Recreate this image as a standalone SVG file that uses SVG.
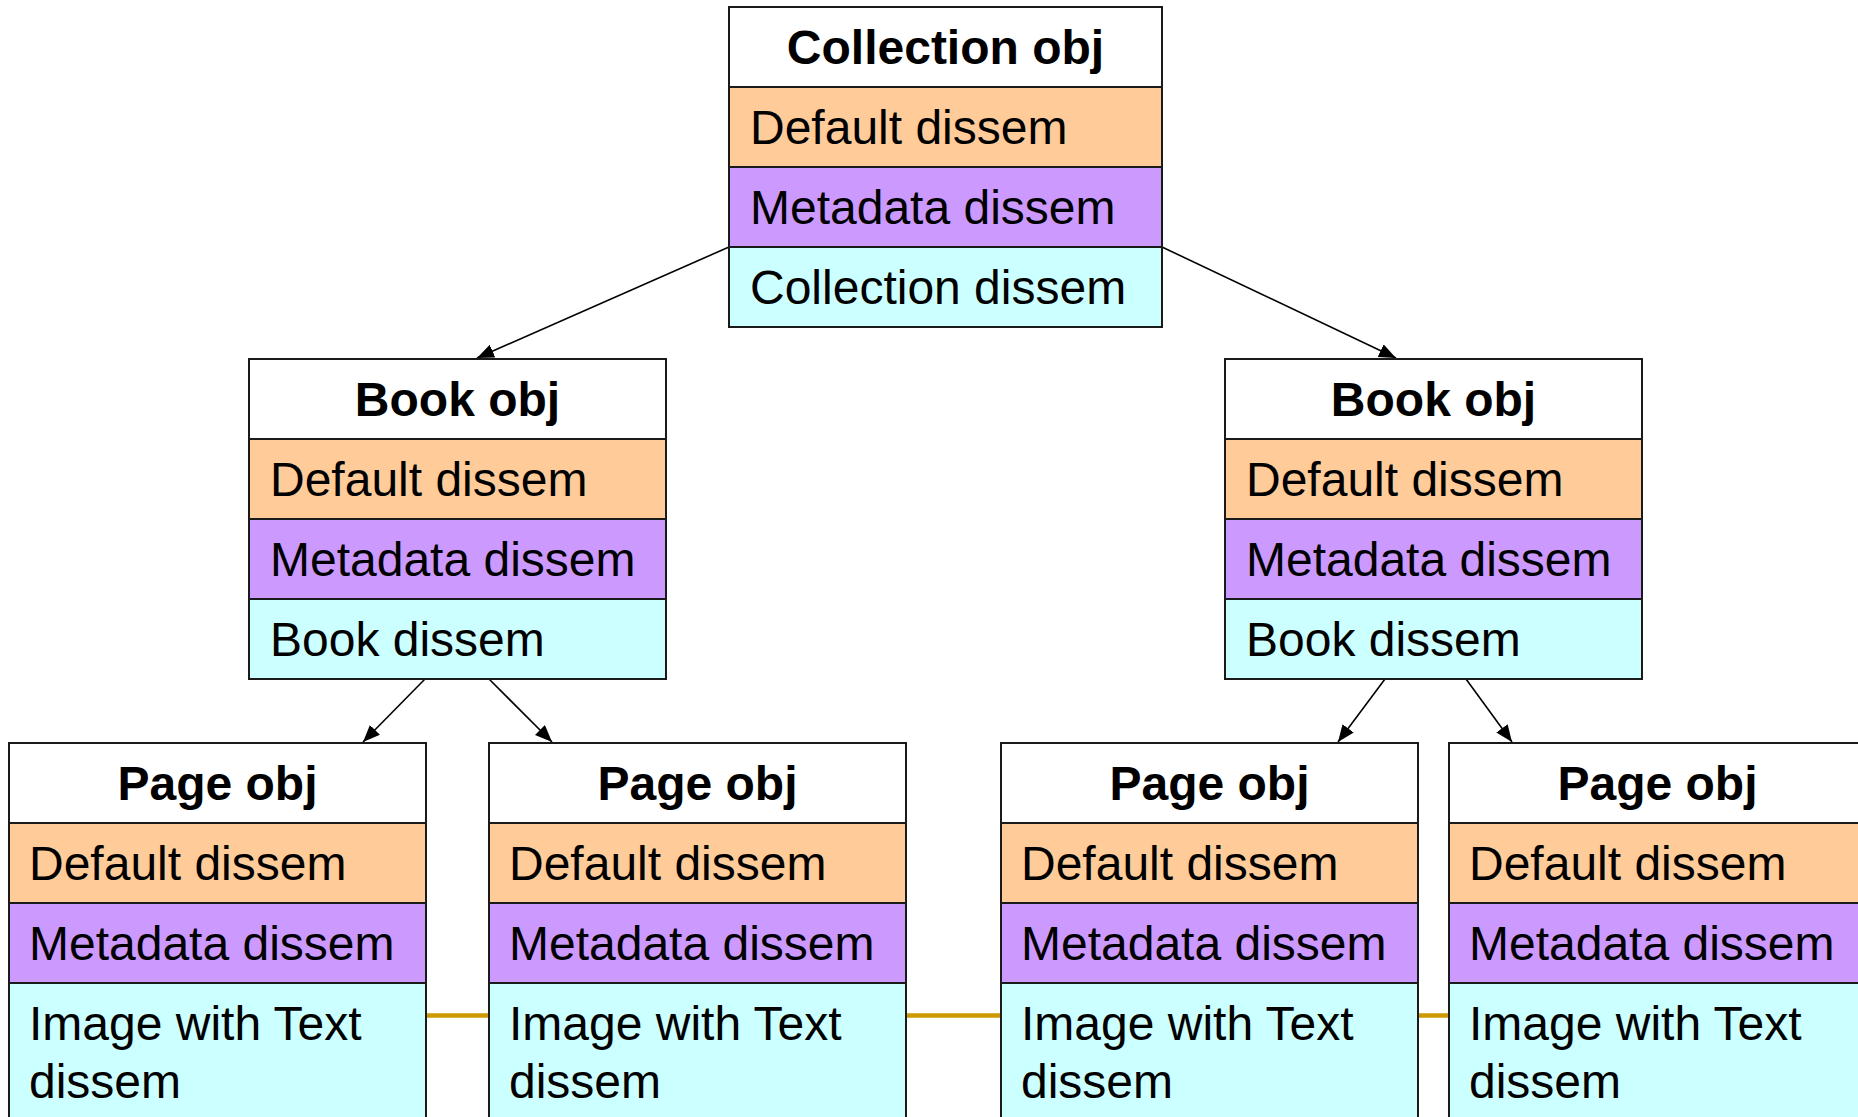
<svg xmlns="http://www.w3.org/2000/svg" width="1858" height="1117" viewBox="0 0 1858 1117">
  <style>
    .box rect { stroke: #1a1a1a; stroke-width: 2; }
    .hdr { fill: #ffffff; }
    .def { fill: #ffcc99; }
    .meta { fill: #cc99ff; }
    .dis { fill: #ccffff; }
    text { font-family: "Liberation Sans", Arial, sans-serif; font-size: 48px; fill: #000; }
    .title { font-weight: bold; text-anchor: middle; }
    .arrow { stroke: #000; stroke-width: 1.6; fill: none; marker-end: url(#head); }
    .link { stroke: #cc9900; stroke-width: 4.5; fill: none; }
  </style>
  <defs>
    <marker id="head" markerUnits="userSpaceOnUse" markerWidth="20" markerHeight="16" refX="17" refY="7" orient="auto">
      <path d="M0,0 L17,7 L0,14 Z" fill="#000"/>
    </marker>
  </defs>
  <rect width="1858" height="1117" fill="#ffffff"/>

  <!-- connectors -->
  <g id="connectors">
    <line class="link" x1="426" y1="1015.5" x2="489" y2="1015.5"/>
    <line class="link" x1="906" y1="1015.5" x2="1001" y2="1015.5"/>
    <line class="link" x1="1418" y1="1015.5" x2="1449" y2="1015.5"/>
    <line class="arrow" x1="729" y1="247" x2="477" y2="358"/>
    <line class="arrow" x1="1162" y1="247" x2="1396" y2="358"/>
    <line class="arrow" x1="425" y1="679" x2="363" y2="742"/>
    <line class="arrow" x1="489" y1="679" x2="552" y2="742"/>
    <line class="arrow" x1="1385" y1="679" x2="1338" y2="742"/>
    <line class="arrow" x1="1466" y1="679" x2="1512" y2="742"/>
  </g>

  <!-- collection object -->
  <g id="collection" class="box">
    <rect class="hdr" x="729" y="7" width="433" height="80"/>
    <rect class="def" x="729" y="87" width="433" height="80"/>
    <rect class="meta" x="729" y="167" width="433" height="80"/>
    <rect class="dis" x="729" y="247" width="433" height="80"/>
    <text class="title" x="945.5" y="64">Collection obj</text>
    <text x="750" y="144">Default dissem</text>
    <text x="750" y="224">Metadata dissem</text>
    <text x="750" y="304">Collection dissem</text>
  </g>

  <!-- book objects -->
  <g id="book-left" class="box">
    <rect class="hdr" x="249" y="359" width="417" height="80"/>
    <rect class="def" x="249" y="439" width="417" height="80"/>
    <rect class="meta" x="249" y="519" width="417" height="80"/>
    <rect class="dis" x="249" y="599" width="417" height="80"/>
    <text class="title" x="457.5" y="416">Book obj</text>
    <text x="270" y="496">Default dissem</text>
    <text x="270" y="576">Metadata dissem</text>
    <text x="270" y="656">Book dissem</text>
  </g>
  <g id="book-right" class="box">
    <rect class="hdr" x="1225" y="359" width="417" height="80"/>
    <rect class="def" x="1225" y="439" width="417" height="80"/>
    <rect class="meta" x="1225" y="519" width="417" height="80"/>
    <rect class="dis" x="1225" y="599" width="417" height="80"/>
    <text class="title" x="1433.5" y="416">Book obj</text>
    <text x="1246" y="496">Default dissem</text>
    <text x="1246" y="576">Metadata dissem</text>
    <text x="1246" y="656">Book dissem</text>
  </g>

  <!-- page objects -->
  <g id="page-1" class="box">
    <rect class="hdr" x="9" y="743" width="417" height="80"/>
    <rect class="def" x="9" y="823" width="417" height="80"/>
    <rect class="meta" x="9" y="903" width="417" height="80"/>
    <rect class="dis" x="9" y="983" width="417" height="160"/>
    <text class="title" x="217.5" y="800">Page obj</text>
    <text x="29" y="880">Default dissem</text>
    <text x="29" y="960">Metadata dissem</text>
    <text x="29" y="1040">Image with Text</text>
    <text x="29" y="1098">dissem</text>
  </g>
  <g id="page-2" class="box">
    <rect class="hdr" x="489" y="743" width="417" height="80"/>
    <rect class="def" x="489" y="823" width="417" height="80"/>
    <rect class="meta" x="489" y="903" width="417" height="80"/>
    <rect class="dis" x="489" y="983" width="417" height="160"/>
    <text class="title" x="697.5" y="800">Page obj</text>
    <text x="509" y="880">Default dissem</text>
    <text x="509" y="960">Metadata dissem</text>
    <text x="509" y="1040">Image with Text</text>
    <text x="509" y="1098">dissem</text>
  </g>
  <g id="page-3" class="box">
    <rect class="hdr" x="1001" y="743" width="417" height="80"/>
    <rect class="def" x="1001" y="823" width="417" height="80"/>
    <rect class="meta" x="1001" y="903" width="417" height="80"/>
    <rect class="dis" x="1001" y="983" width="417" height="160"/>
    <text class="title" x="1209.5" y="800">Page obj</text>
    <text x="1021" y="880">Default dissem</text>
    <text x="1021" y="960">Metadata dissem</text>
    <text x="1021" y="1040">Image with Text</text>
    <text x="1021" y="1098">dissem</text>
  </g>
  <g id="page-4" class="box">
    <rect class="hdr" x="1449" y="743" width="417" height="80"/>
    <rect class="def" x="1449" y="823" width="417" height="80"/>
    <rect class="meta" x="1449" y="903" width="417" height="80"/>
    <rect class="dis" x="1449" y="983" width="417" height="160"/>
    <text class="title" x="1657.5" y="800">Page obj</text>
    <text x="1469" y="880">Default dissem</text>
    <text x="1469" y="960">Metadata dissem</text>
    <text x="1469" y="1040">Image with Text</text>
    <text x="1469" y="1098">dissem</text>
  </g>
</svg>
